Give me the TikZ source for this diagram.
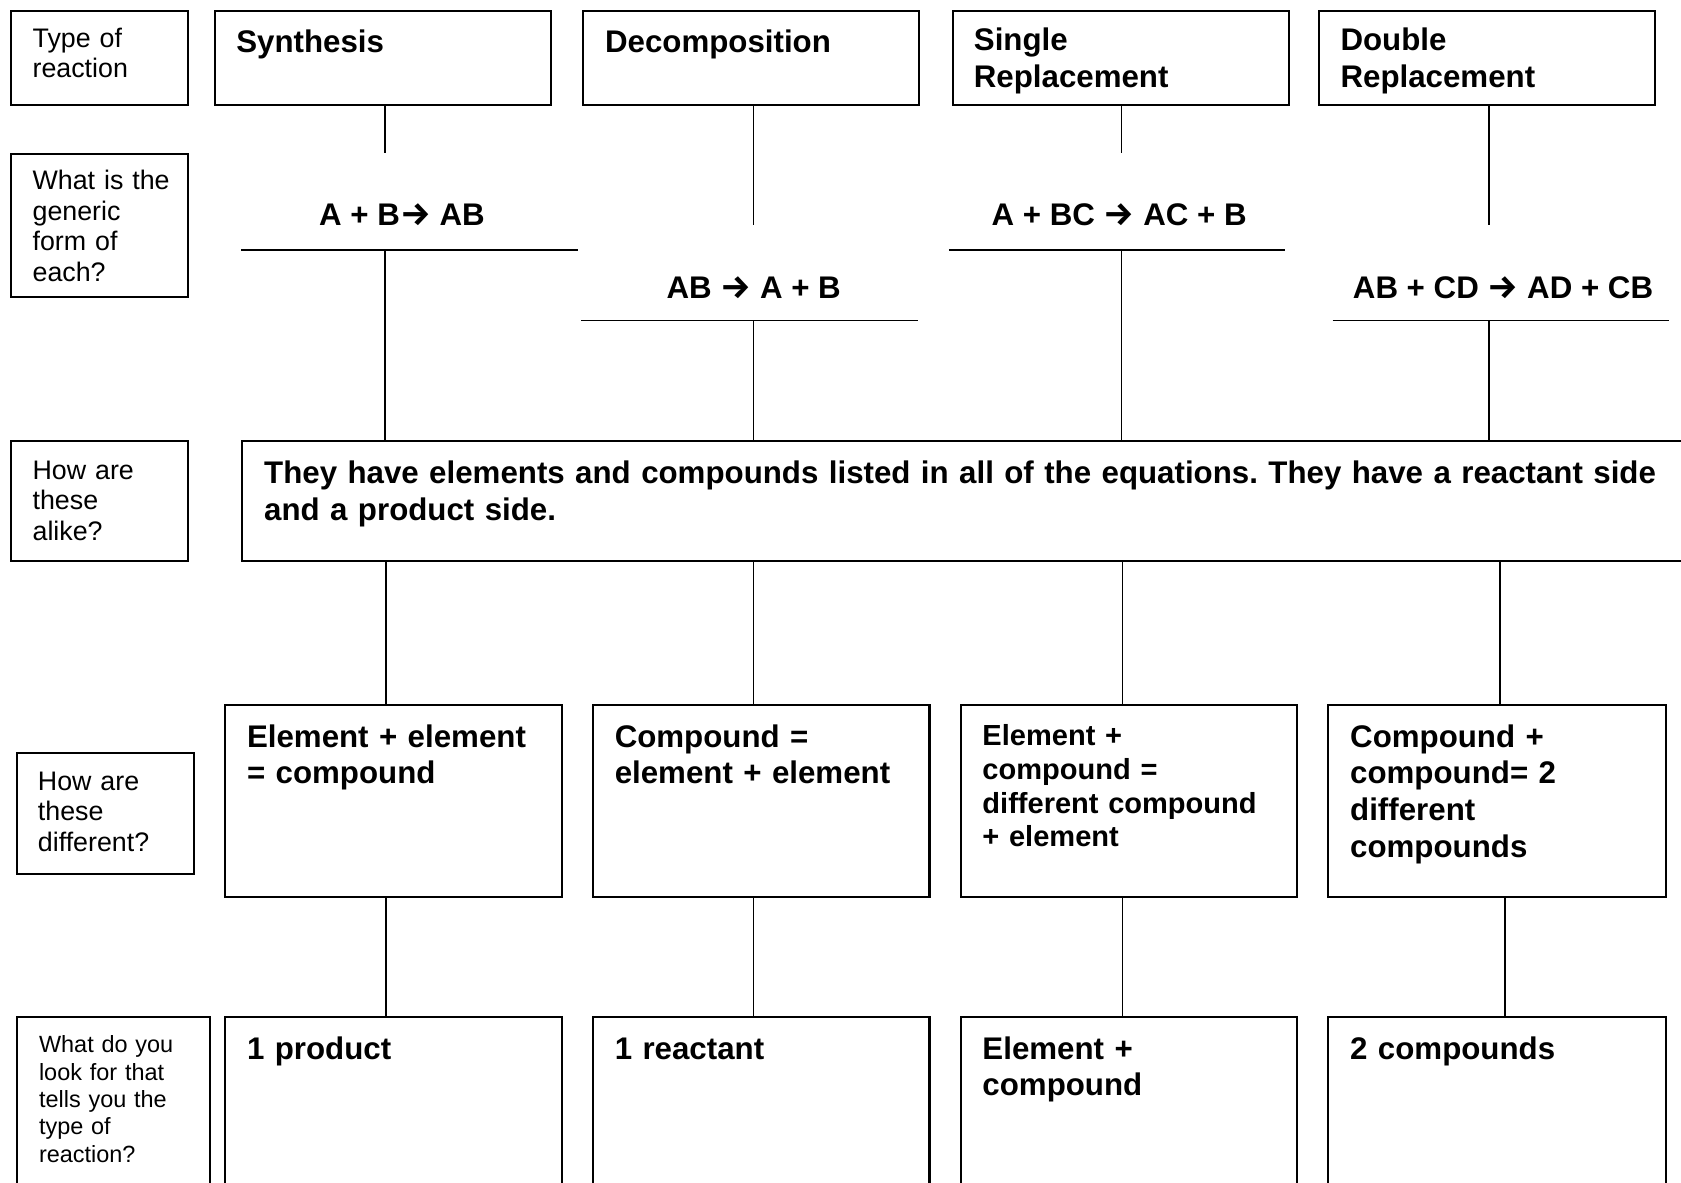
\documentclass[tikz,border=0pt]{standalone}
\usepackage{fontspec}
\setmainfont{Liberation Sans}
\newfontfamily\arrowfont{Fira Sans}
\newcommand{\rxarrow}{{\arrowfont\bfseries\scalebox{1.1}[1.05]{→}}}
\frenchspacing
\usetikzlibrary{fit}
\begin{document}
\begin{tikzpicture}[x=0.48pt,y=-0.48pt,
  box/.style={draw, line width=0.9pt, inner sep=0pt, fit={#1}},
  conn/.style={line width=0.7pt},
  lbl/.style={anchor=base west, inner sep=0pt, text width=100pt, align=left, font=\fontsize{12}{13.7}\selectfont},
  lbls/.style={anchor=base west, inner sep=0pt, text width=100pt, align=left, font=\fontsize{10.5}{12.25}\selectfont},
  hd/.style={anchor=base west, inner sep=0pt, text width=200pt, align=left, font=\fontsize{14}{16.45}\selectfont\bfseries},
  hdsm/.style={anchor=base west, inner sep=0pt, text width=200pt, align=left, font=\fontsize{13}{15.2}\selectfont\bfseries},
  eq/.style={anchor=base, inner sep=0pt, font=\fontsize{14}{16.45}\selectfont\bfseries}]
\useasboundingbox (0,0) rectangle (1568,1103);
\clip (0,0) rectangle (1568,1103);

% column positions
\coordinate (k1) at (359,0);
\coordinate (k2) at (703,0);
\coordinate (k3) at (1046,0);
\coordinate (k4) at (1389,0);
\coordinate (m1) at (360,0);
\coordinate (m3) at (1047,0);
\coordinate (m4) at (1399,0);
\coordinate (n4) at (1404,0);

% row 1
\node[box={(10,10) (175,98)}] (L1) {};
\node[box={(201,10) (514,98)}] (T1) {};
\node[box={(544,10) (857,98)}] (T2) {};
\node[box={(889,10) (1202,98)}] (T3) {};
\node[box={(1230,10) (1544,98)}] (T4) {};
\node[lbl] (l1t) at (30,44) {Type of\\reaction};
\node[hd] (t1t) at (220,49) {Synthesis};
\node[hd] (t2t) at (564,49) {Decomposition};
\node[hd] (t3t) at (908,47) {Single\\Replacement};
\node[hd] (t4t) at (1250,47) {Double\\Replacement};

% row 2
\node[box={(10,144) (175,277)}] (L2) {};
\node[lbl] (l2t) at (30,177) {What is the\\generic\\form of\\each?};
\node[eq] (e1) at (375,210) {A + B\rxarrow{} AB};
\node[eq] (e2) at (703,278) {AB \rxarrow{} A + B};
\node[eq] (e3) at (1044,210) {A + BC \rxarrow{} AC + B};
\node[eq] (e4) at (1402,278) {AB + CD \rxarrow{} AD + CB};
\coordinate (g1w) at (225,233); \coordinate (g1e) at (539,233);
\coordinate (g2w) at (542,299); \coordinate (g2e) at (856,299);
\coordinate (g3w) at (885,233); \coordinate (g3e) at (1199,233);
\coordinate (g4w) at (1243,299); \coordinate (g4e) at (1557,299);
\coordinate (f2) at (703,210);
\coordinate (f4) at (1389,210);

% row 3
\node[box={(10,411) (175,523)}] (L3) {};
\node[box={(226,411) (1600,523)}] (A) {};
\node[lbl] (l3t) at (30,447) {How are\\these\\alike?};
\node[hd, text width=700pt] (at) at (246,451) {They have elements and compounds listed in all of the equations. They have a reactant side\\and a product side.};

% row 4
\node[box={(16,702) (181,815)}] (L4) {};
\node[box={(210,658) (524,837)}] (D1) {};
\node[box={(553,658) (867,837)}] (D2) {};
\node[box={(896,658) (1210,837)}] (D3) {};
\node[box={(1239,658) (1554,837)}] (D4) {};
\node[lbl] (l4t) at (35,737) {How are\\these\\different?};
\node[hd] (d1t) at (230,697) {Element + element\\= compound};
\node[hd] (d2t) at (573,697) {Compound =\\element + element};
\node[hdsm] (d3t) at (916,695) {Element +\\compound =\\different compound\\+ element};
\node[hd] (d4t) at (1259,697) {Compound +\\compound= 2\\different\\compounds};

% row 5
\node[box={(16,949) (196,1130)}] (L5) {};
\node[box={(210,949) (524,1130)}] (W1) {};
\node[box={(553,949) (867,1130)}] (W2) {};
\node[box={(896,949) (1210,1130)}] (W3) {};
\node[box={(1239,949) (1554,1130)}] (W4) {};
\node[lbls] (l5t) at (36,982) {What do you\\look for that\\tells you the\\type of\\reaction?};
\node[hd] (w1t) at (230,988) {1 product};
\node[hd] (w2t) at (573,988) {1 reactant};
\node[hd] (w3t) at (916,988) {Element +\\compound};
\node[hd] (w4t) at (1259,988) {2 compounds};

% connectors
\draw[conn] (T1.south -| k1) -- (L2.north -| k1);
\draw[conn] (T2.south -| k2) -- (f2);
\draw[conn] (T3.south -| k3) -- (L2.north -| k3);
\draw[conn] (T4.south -| k4) -- (f4);
\draw[conn] (g1w) -- (g1e);
\draw[conn] (g2w) -- (g2e);
\draw[conn] (g3w) -- (g3e);
\draw[conn] (g4w) -- (g4e);
\draw[conn] (g1w -| k1) -- (A.north -| k1);
\draw[conn] (g2w -| k2) -- (A.north -| k2);
\draw[conn] (g3w -| k3) -- (A.north -| k3);
\draw[conn] (g4w -| k4) -- (A.north -| k4);
\draw[conn] (A.south -| m1) -- (D1.north -| m1);
\draw[conn] (A.south -| k2) -- (D2.north -| k2);
\draw[conn] (A.south -| m3) -- (D3.north -| m3);
\draw[conn] (A.south -| m4) -- (D4.north -| m4);
\draw[conn] (D1.south -| m1) -- (W1.north -| m1);
\draw[conn] (D2.south -| k2) -- (W2.north -| k2);
\draw[conn] (D3.south -| m3) -- (W3.north -| m3);
\draw[conn] (D4.south -| n4) -- (W4.north -| n4);
\end{tikzpicture}
\end{document}
